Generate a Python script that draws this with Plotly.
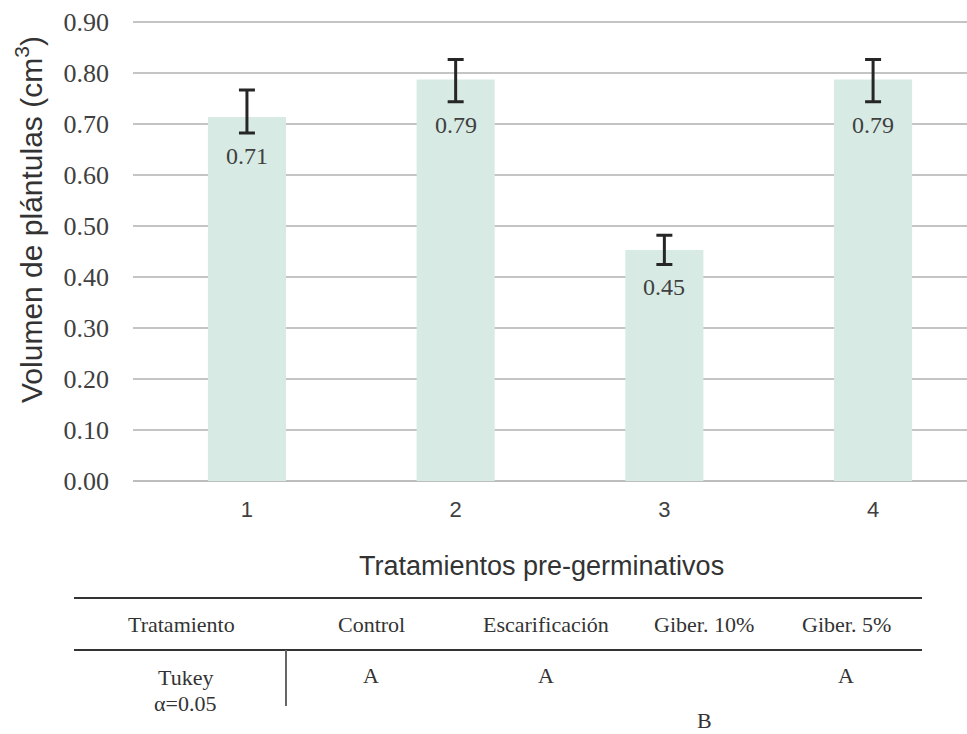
import plotly.graph_objects as go

# ---- data ----
tratamientos = [1, 2, 3, 4]
volumen = [0.714, 0.788, 0.453, 0.788]
err_plus = [0.053, 0.039, 0.029, 0.039]
err_minus = [0.031, 0.044, 0.028, 0.044]
tick_labels = ["1", "2", "3", "4"]
nombres = ["Control", "Escarificación", "Giber. 10%", "Giber. 5%"]
tukey = ["A", "A", "B", "A"]

W, H = 967, 734
def px(x):
    return x / W
def py(y):
    return 1 - y / H

SERIF = "Liberation Serif"
SANS = "Liberation Sans"
TXT = "#404040"

fig = go.Figure()
fig.add_trace(go.Bar(
    x=tratamientos, y=volumen, width=0.374,
    marker=dict(color="#d7ebe4", line=dict(width=0)),
    error_y=dict(type="data", symmetric=False, array=err_plus, arrayminus=err_minus,
                 color="#262626", thickness=3, width=8),
    showlegend=False, hoverinfo="skip",
))

YMAX = 0.905
y_top_px = 481 - (481 - 22.3) * YMAX / 0.9
fig.update_layout(
    width=W, height=H, margin=dict(l=0, r=0, t=0, b=0),
    plot_bgcolor="white", paper_bgcolor="white",
    xaxis=dict(domain=[px(133), 1.0], range=[0.454, 4.45], tickmode="array",
               tickvals=tratamientos, ticktext=tick_labels, showgrid=False,
               zeroline=False, showline=False, ticks="", ticklabelstandoff=13,
               automargin=False,
               tickfont=dict(family=SANS, size=22, color=TXT)),
    yaxis=dict(domain=[py(481), py(y_top_px)], range=[0, YMAX], tickvals=[i / 10 for i in range(10)],
               tickformat=".2f", showgrid=True, gridcolor="#c4c4c4", gridwidth=2,
               zeroline=True, zerolinecolor="#bdbdbd", zerolinewidth=2,
               ticks="", ticklabelstandoff=23, automargin=False,
               tickfont=dict(family=SERIF, size=26, color=TXT)),
)

def note(x, y, text, font, **kw):
    d = dict(x=px(x), y=py(y), xref="paper", yref="paper", text=text, showarrow=False,
             xanchor="center", yanchor="middle", font=font)
    d.update(kw)
    return d

ann = []
# data labels below the error bars
for xv, yv, em in zip(tratamientos, volumen, err_minus):
    ann.append(dict(x=xv, y=yv - em, xref="x", yref="y", xanchor="center", yanchor="top",
                    yshift=-8, text=f"{yv:.2f}", showarrow=False,
                    font=dict(family=SERIF, size=24, color=TXT)))

ann.append(note(29, 220, "Volumen de plántulas (cm<sup>3</sup>)",
                dict(family=SANS, size=30, color="#333333"), textangle=-90))
ann.append(note(541, 566, "Tratamientos pre-germinativos",
                dict(family=SANS, size=27, color="#333333")))

# table
col_x = [371, 546, 704, 846]
tfont = dict(family=SERIF, size=22, color="#333333")
ann.append(note(181, 624, "Tratamiento", tfont))
for cx, n in zip(col_x, nombres):
    ann.append(note(cx, 624, n, tfont))
ann.append(note(185, 677, "Tukey", tfont))
ann.append(note(185, 703, "α=0.05", tfont))
for cx, letter in zip(col_x, tukey):
    row_y = 675 if letter == "A" else 720
    ann.append(note(cx, row_y, letter, tfont))
fig.update_layout(annotations=ann)

shapes = [
    dict(type="line", xref="paper", yref="paper", x0=px(74), x1=px(922), y0=py(598), y1=py(598),
         line=dict(color="#333333", width=2)),
    dict(type="line", xref="paper", yref="paper", x0=px(74), x1=px(922), y0=py(650), y1=py(650),
         line=dict(color="#333333", width=2)),
    dict(type="line", xref="paper", yref="paper", x0=px(286), x1=px(286), y0=py(650), y1=py(706),
         line=dict(color="#666666", width=2)),
]
fig.update_layout(shapes=shapes)

fig.write_html("out.html", config={"displayModeBar": False},
               post_script="document.body.style.margin='0px';")
